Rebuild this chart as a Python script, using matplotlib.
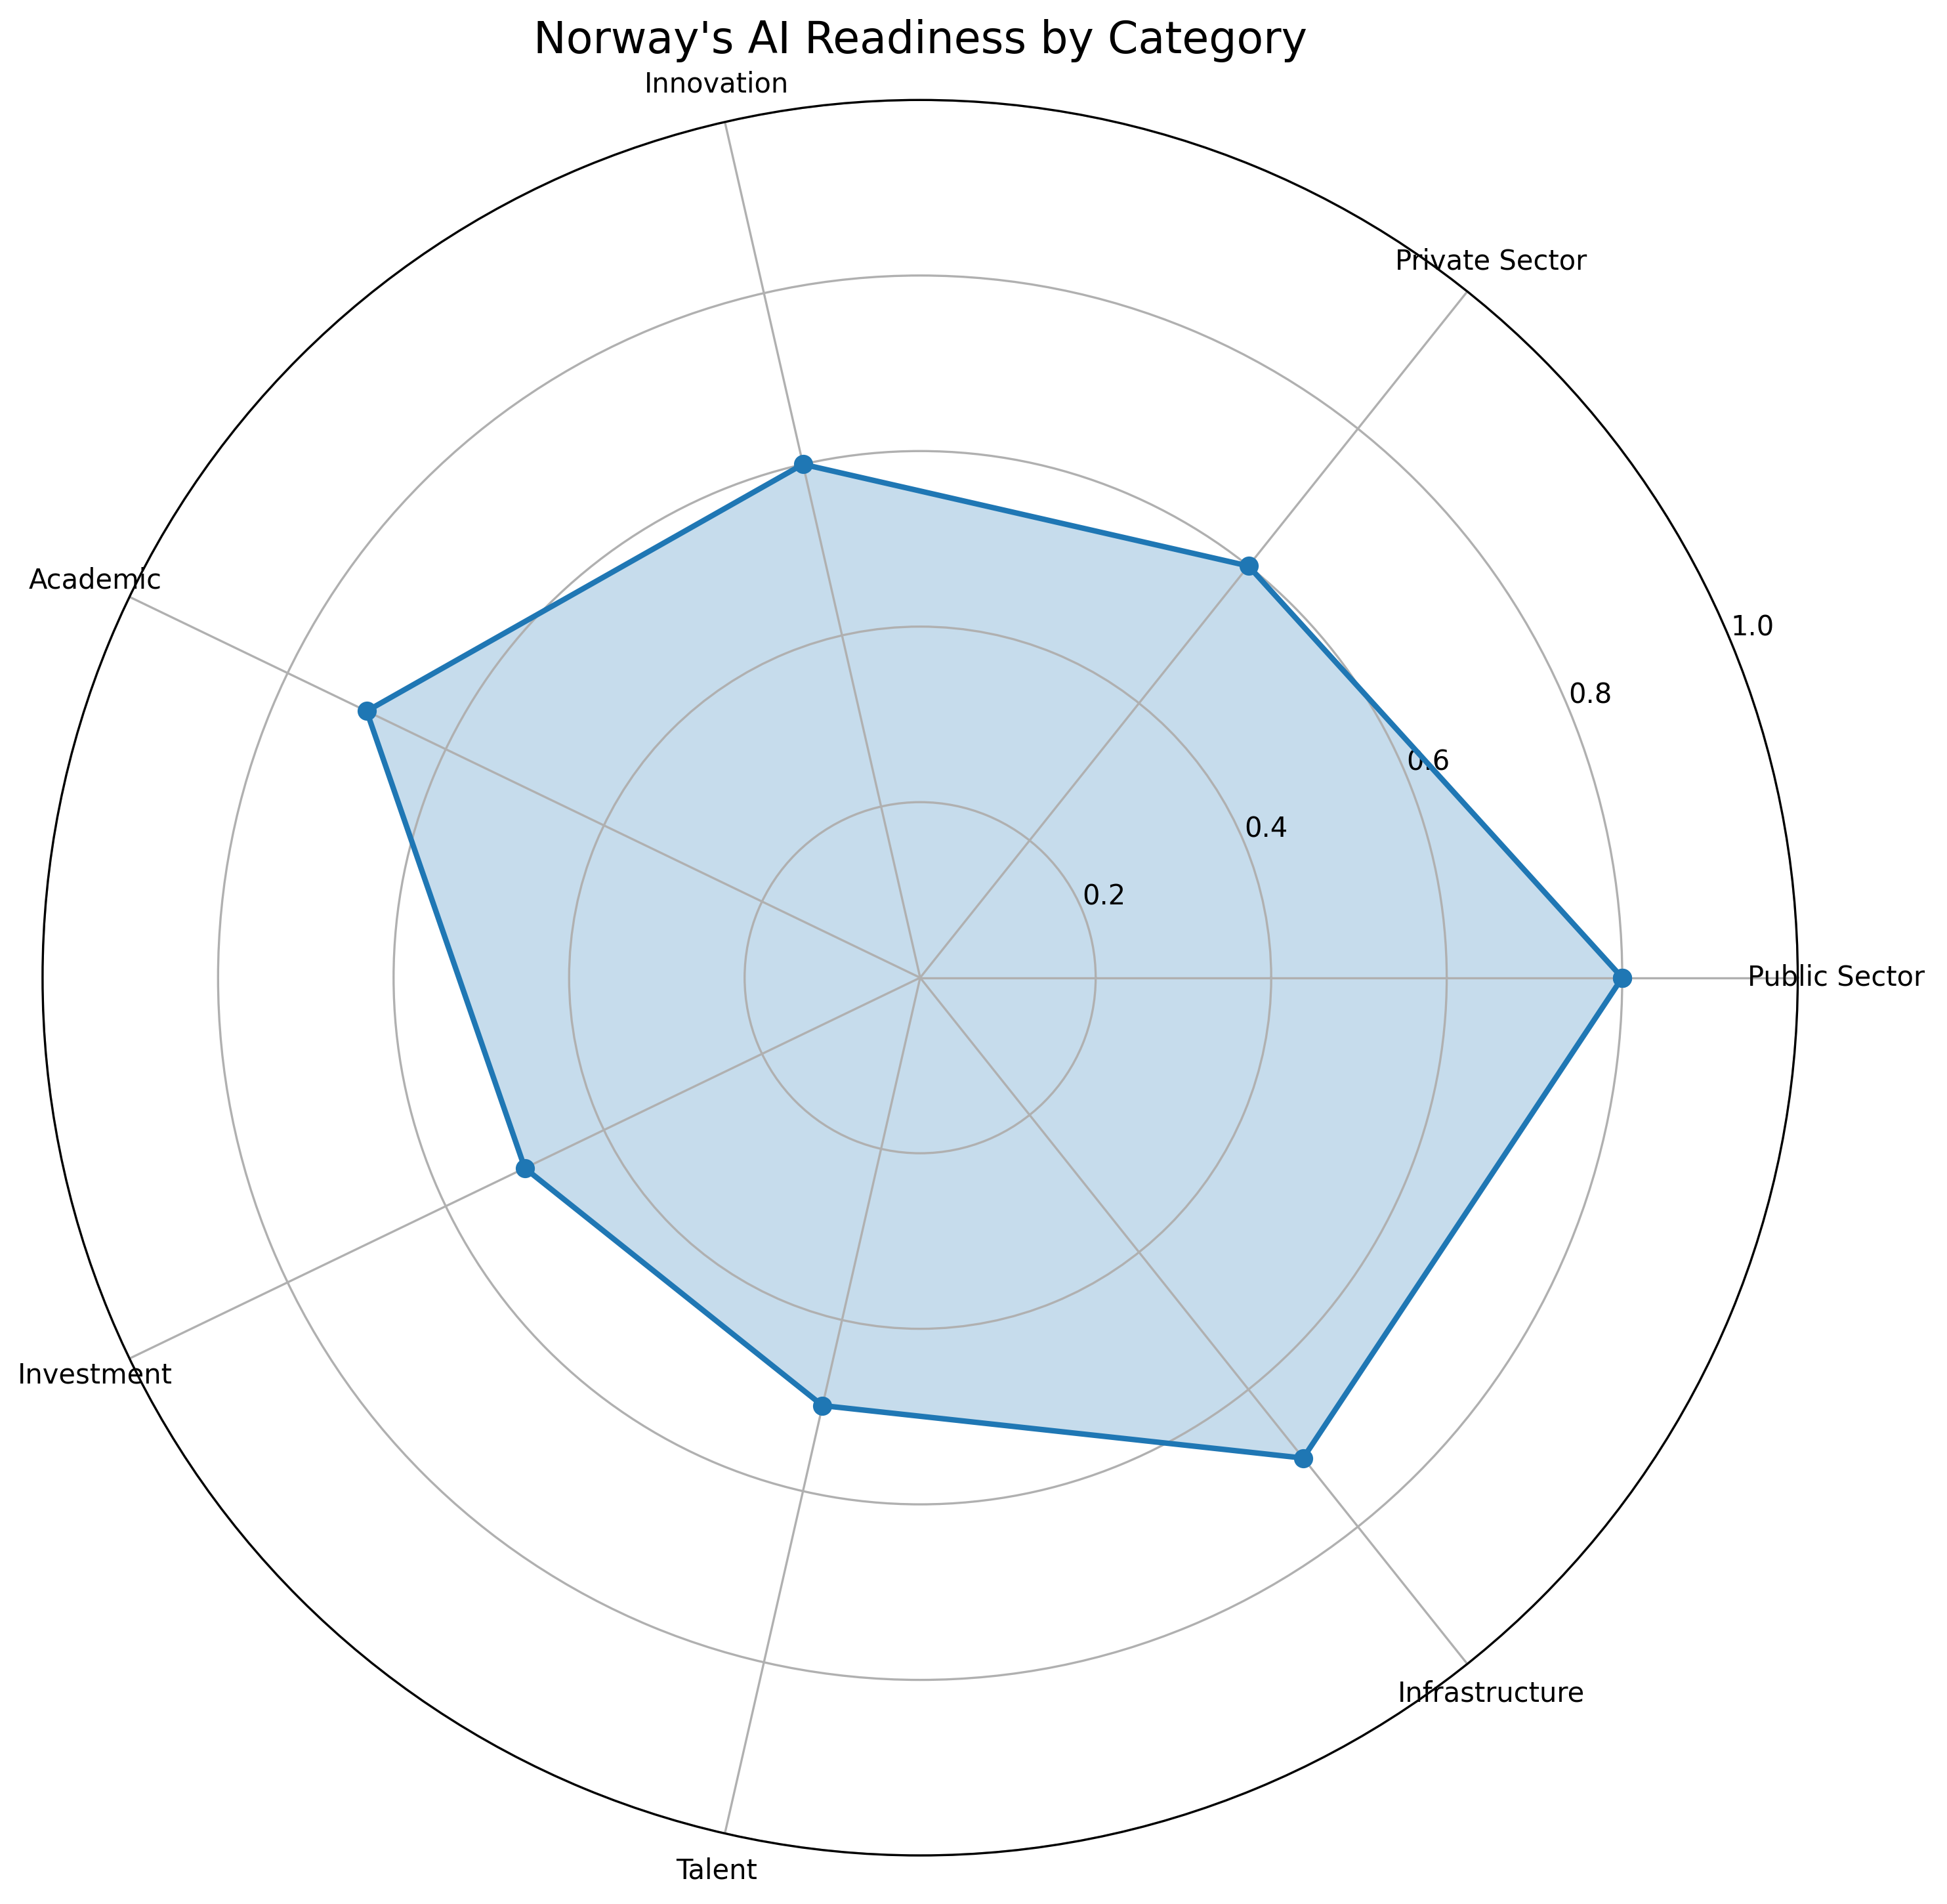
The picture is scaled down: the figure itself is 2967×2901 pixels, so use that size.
import numpy as np
import matplotlib.pyplot as plt

# readiness scores per category
categories = ['Public Sector', 'Private Sector', 'Innovation', 'Academic',
              'Investment', 'Talent', 'Infrastructure']
scores = [0.80, 0.60, 0.60, 0.70, 0.50, 0.50, 0.70]

n = len(categories)
angles = np.linspace(0, 2 * np.pi, n, endpoint=False).tolist()
vals = scores + scores[:1]
angs = angles + angles[:1]

fig = plt.figure(figsize=(2967 / 300, 2901 / 300), dpi=300)
ax = fig.add_axes([0.0216, 0.0255, 0.902, 0.922], projection='polar')

ax.plot(angs, vals, 'o-', color='#1f77b4', linewidth=2, markersize=6)
ax.fill(angs, vals, color='#1f77b4', alpha=0.25)

ax.set_xticks(angles)
ax.set_xticklabels(categories, fontsize=10)
ax.set_ylim(0, 1)
ax.set_yticks([0.2, 0.4, 0.6, 0.8, 1.0])
ax.set_yticklabels(['0.2', '0.4', '0.6', '0.8', '1.0'], fontsize=10)
ax.grid(True, color='#b0b0b0', linewidth=0.8)

ax.set_title("Norway's AI Readiness by Category", fontsize=16, pad=17)

fig.savefig('out.png', dpi=300)
